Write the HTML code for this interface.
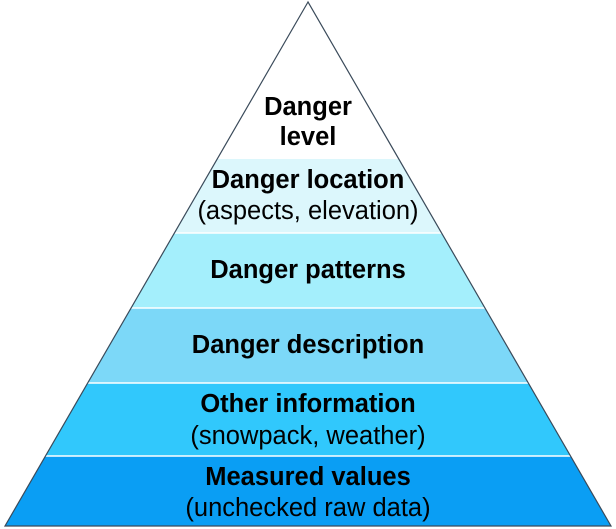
<!DOCTYPE html>
<html><head><meta charset="utf-8"><style>
html,body{margin:0;padding:0;background:#fff;width:616px;height:529px;overflow:hidden}
svg{display:block}
text{font-family:"Liberation Sans",Arial,sans-serif;fill:#000}
.b{font-weight:bold;font-size:25.5px}
.n{font-size:25.5px}
</style></head><body>
<svg width="616" height="529" viewBox="0 0 616 529" xmlns="http://www.w3.org/2000/svg">
<defs><clipPath id="tri"><polygon points="308,2 5,526 611,526"/></clipPath></defs>
<g clip-path="url(#tri)">
<rect x="0" y="0" width="616" height="159" fill="#ffffff"/>
<rect x="0" y="159" width="616" height="74" fill="#dcf7fc"/>
<rect x="0" y="233" width="616" height="75" fill="#a4effc"/>
<rect x="0" y="308" width="616" height="75" fill="#7cd8f8"/>
<rect x="0" y="383" width="616" height="73" fill="#31c8fc"/>
<rect x="0" y="456" width="616" height="72" fill="#0a9ef4"/>
<g stroke="#fff" stroke-width="1.5">
<line x1="0" y1="233" x2="616" y2="233"/>
<line x1="0" y1="308" x2="616" y2="308"/>
<line x1="0" y1="383" x2="616" y2="383"/>
<line x1="0" y1="456" x2="616" y2="456"/>
</g>
</g>
<polygon points="308,2 5,526 611,526" fill="none" stroke="#3a4a5a" stroke-width="1.2"/>
<g text-anchor="middle">
<text class="b" x="308" y="115">Danger</text>
<text class="b" x="308" y="145">level</text>
<text class="b" x="308" y="188">Danger location</text>
<text class="n" x="308" y="219">(aspects, elevation)</text>
<text class="b" x="308" y="278">Danger patterns</text>
<text class="b" x="308" y="353">Danger description</text>
<text class="b" x="308" y="412">Other information</text>
<text class="n" x="308" y="444">(snowpack, weather)</text>
<text class="b" x="308" y="485">Measured values</text>
<text class="n" x="308" y="516">(unchecked raw data)</text>
</g>
</svg>
</body></html>
